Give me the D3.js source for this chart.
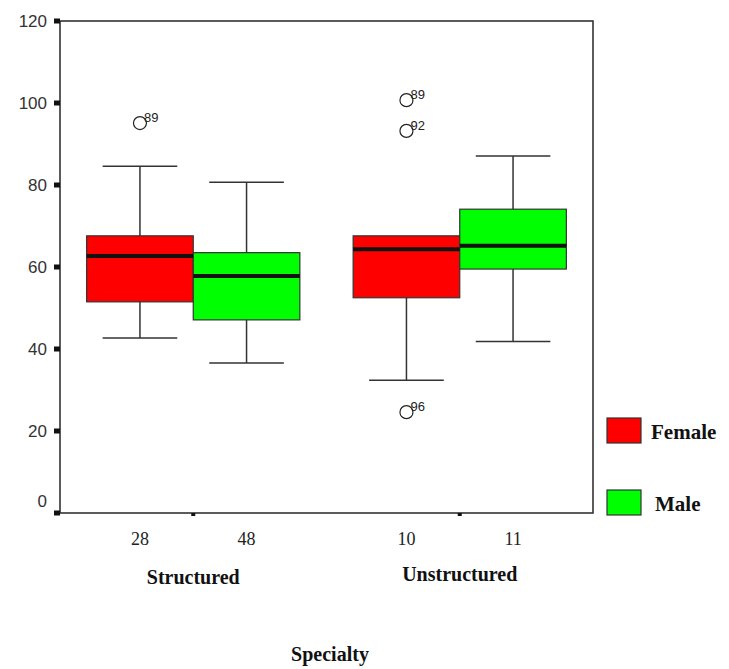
<!DOCTYPE html>
<html>
<head>
<meta charset="utf-8">
<script src="https://cdn.jsdelivr.net/npm/d3@7"></script>
<style>
  body { margin: 0; background: #fff; }
  svg { display: block; }
</style>
</head>
<body>
<div id="chart"></div>
<script>
// categories
const specialties = ['Structured', 'Unstructured']
const sexes = ['Female', 'Male']
const colors = ['#ff0000', '#00ff00']
// n per box, order: specialty x sex
const counts = [[28, 48], [10, 11]]
// box stats [low whisker, q1, median, q3, high whisker]
const structuredStats = [[42.7, 51.5, 62.7, 67.6, 84.6], [36.6, 47.1, 57.8, 63.5, 80.7]]
const unstructuredStats = [[32.4, 52.5, 64.3, 67.6, 67.6], [41.8, 59.5, 65.2, 74.1, 87.1]]
// outliers [specialty, sex, value, case label]
const outliers = [
	['Structured', 'Female', 95.1, '89'],
	['Unstructured', 'Female', 100.7, '89'],
	['Unstructured', 'Female', 93.2, '92'],
	['Unstructured', 'Female', 24.6, '96']
]
const yTicks = [0, 20, 40, 60, 80, 100, 120]

const width = 729
const height = 669
const plotL = 60, plotR = 593, plotT = 21, plotB = 513

const svg = d3.select('#chart').append('svg')
	.attr('width', width)
	.attr('height', height)

const y = d3.scaleLinear().domain([0, 120]).range([plotB, plotT])
const x0 = d3.scaleBand().domain(specialties).range([plotL, plotR])
	.paddingInner(0.2).paddingOuter(0.1)
const x1 = d3.scaleBand().domain(sexes).range([0, x0.bandwidth()])

const statsBy = { Structured: structuredStats, Unstructured: unstructuredStats }
const boxes = []
specialties.forEach(function(sp, i) {
	sexes.forEach(function(sx, j) {
		const s = statsBy[sp][j]
		boxes.push({ sp: sp, sx: sx, n: counts[i][j], lo: s[0], q1: s[1], med: s[2], q3: s[3], hi: s[4], color: colors[j] })
	})
})
const bx = function(d) { return x0(d.sp) + x1(d.sx) }
const bw = x1.bandwidth()

// frame
svg.append('rect')
	.attr('x', plotL).attr('y', plotT)
	.attr('width', plotR - plotL).attr('height', plotB - plotT)
	.attr('fill', 'none').attr('stroke', '#333').attr('stroke-width', 1.6)

// y axis tick marks + labels
svg.selectAll('.ytick').data(yTicks).enter().append('rect')
	.attr('x', plotL - 6).attr('y', function(d) { return y(d) - 2.5 })
	.attr('width', 6).attr('height', 5).attr('fill', '#111')
svg.selectAll('.ylab').data(yTicks).enter().append('text')
	.attr('x', 47).attr('y', function(d) { return d === 0 ? y(d) - 6 : y(d) + 6 })
	.attr('text-anchor', 'end')
	.style('font-family', 'Liberation Sans, Arial, sans-serif')
	.style('font-size', '17px').style('fill', '#333')
	.text(function(d) { return d })

// x ticks at group centres
svg.selectAll('.xtick').data(specialties).enter().append('rect')
	.attr('x', function(d) { return x0(d) + x0.bandwidth() / 2 - 2 })
	.attr('y', plotB).attr('width', 4).attr('height', 3).attr('fill', '#111')

// whiskers
const g = svg.append('g')
g.selectAll('.whisk').data(boxes).enter().append('line')
	.attr('x1', function(d) { return bx(d) + bw / 2 }).attr('x2', function(d) { return bx(d) + bw / 2 })
	.attr('y1', function(d) { return y(d.lo) }).attr('y2', function(d) { return y(d.hi) })
	.attr('stroke', '#333').attr('stroke-width', 1.5)
g.selectAll('.caplo').data(boxes).enter().append('line')
	.attr('x1', function(d) { return bx(d) + bw * 0.15 }).attr('x2', function(d) { return bx(d) + bw * 0.85 })
	.attr('y1', function(d) { return y(d.lo) }).attr('y2', function(d) { return y(d.lo) })
	.attr('stroke', '#333').attr('stroke-width', 1.5)
g.selectAll('.caphi').data(boxes.filter(function(d) { return d.hi > d.q3 })).enter().append('line')
	.attr('x1', function(d) { return bx(d) + bw * 0.15 }).attr('x2', function(d) { return bx(d) + bw * 0.85 })
	.attr('y1', function(d) { return y(d.hi) }).attr('y2', function(d) { return y(d.hi) })
	.attr('stroke', '#333').attr('stroke-width', 1.5)

// boxes
g.selectAll('.box').data(boxes).enter().append('rect')
	.attr('x', bx).attr('width', bw)
	.attr('y', function(d) { return y(d.q3) })
	.attr('height', function(d) { return y(d.q1) - y(d.q3) })
	.attr('fill', function(d) { return d.color })
	.attr('stroke', '#333').attr('stroke-width', 1.2)
g.selectAll('.med').data(boxes).enter().append('line')
	.attr('x1', bx).attr('x2', function(d) { return bx(d) + bw })
	.attr('y1', function(d) { return y(d.med) }).attr('y2', function(d) { return y(d.med) })
	.attr('stroke', '#111').attr('stroke-width', 4)

// outliers
const ox = function(d) { return x0(d[0]) + x1(d[1]) + bw / 2 }
g.selectAll('.out').data(outliers).enter().append('circle')
	.attr('cx', ox).attr('cy', function(d) { return y(d[2]) })
	.attr('r', 6.5).attr('fill', 'none').attr('stroke', '#222').attr('stroke-width', 1.2)
g.selectAll('.outlab').data(outliers).enter().append('text')
	.attr('x', function(d) { return ox(d) + 4 }).attr('y', function(d) { return y(d[2]) - 1 })
	.style('font-family', 'Liberation Sans, Arial, sans-serif')
	.style('font-size', '13px').style('fill', '#222')
	.text(function(d) { return d[3] })

// counts
svg.selectAll('.cnt').data(boxes).enter().append('text')
	.attr('x', function(d) { return bx(d) + bw / 2 }).attr('y', 545)
	.attr('text-anchor', 'middle')
	.style('font-family', 'Liberation Serif, Times New Roman, serif')
	.style('font-size', '18px').style('fill', '#222')
	.text(function(d) { return d.n })

// group labels
svg.selectAll('.grp').data(specialties).enter().append('text')
	.attr('x', function(d) { return x0(d) + x0.bandwidth() / 2 })
	.attr('y', function(d, i) { return i === 0 ? 584 : 581 })
	.attr('text-anchor', 'middle')
	.style('font-family', 'Liberation Serif, Times New Roman, serif')
	.style('font-size', '20px').style('font-weight', 'bold').style('fill', '#111')
	.text(function(d) { return d })

// axis title
svg.append('text')
	.attr('x', 330).attr('y', 661).attr('text-anchor', 'middle')
	.style('font-family', 'Liberation Serif, Times New Roman, serif')
	.style('font-size', '20px').style('font-weight', 'bold').style('fill', '#111')
	.text('Specialty')

// legend
const leg = svg.selectAll('.leg').data(sexes).enter().append('g')
	.attr('transform', function(d, i) { return 'translate(607,' + (418 + i * 72) + ')' })
leg.append('rect').attr('width', 34).attr('height', 25)
	.attr('fill', function(d, i) { return colors[i] })
	.attr('stroke', '#333').attr('stroke-width', 1.2)
leg.append('text')
	.attr('x', function(d, i) { return i === 0 ? 44 : 48 }).attr('y', 21)
	.style('font-family', 'Liberation Serif, Times New Roman, serif')
	.style('font-size', '21px').style('font-weight', 'bold').style('fill', '#111')
	.text(function(d) { return d })
</script>
</body>
</html>
